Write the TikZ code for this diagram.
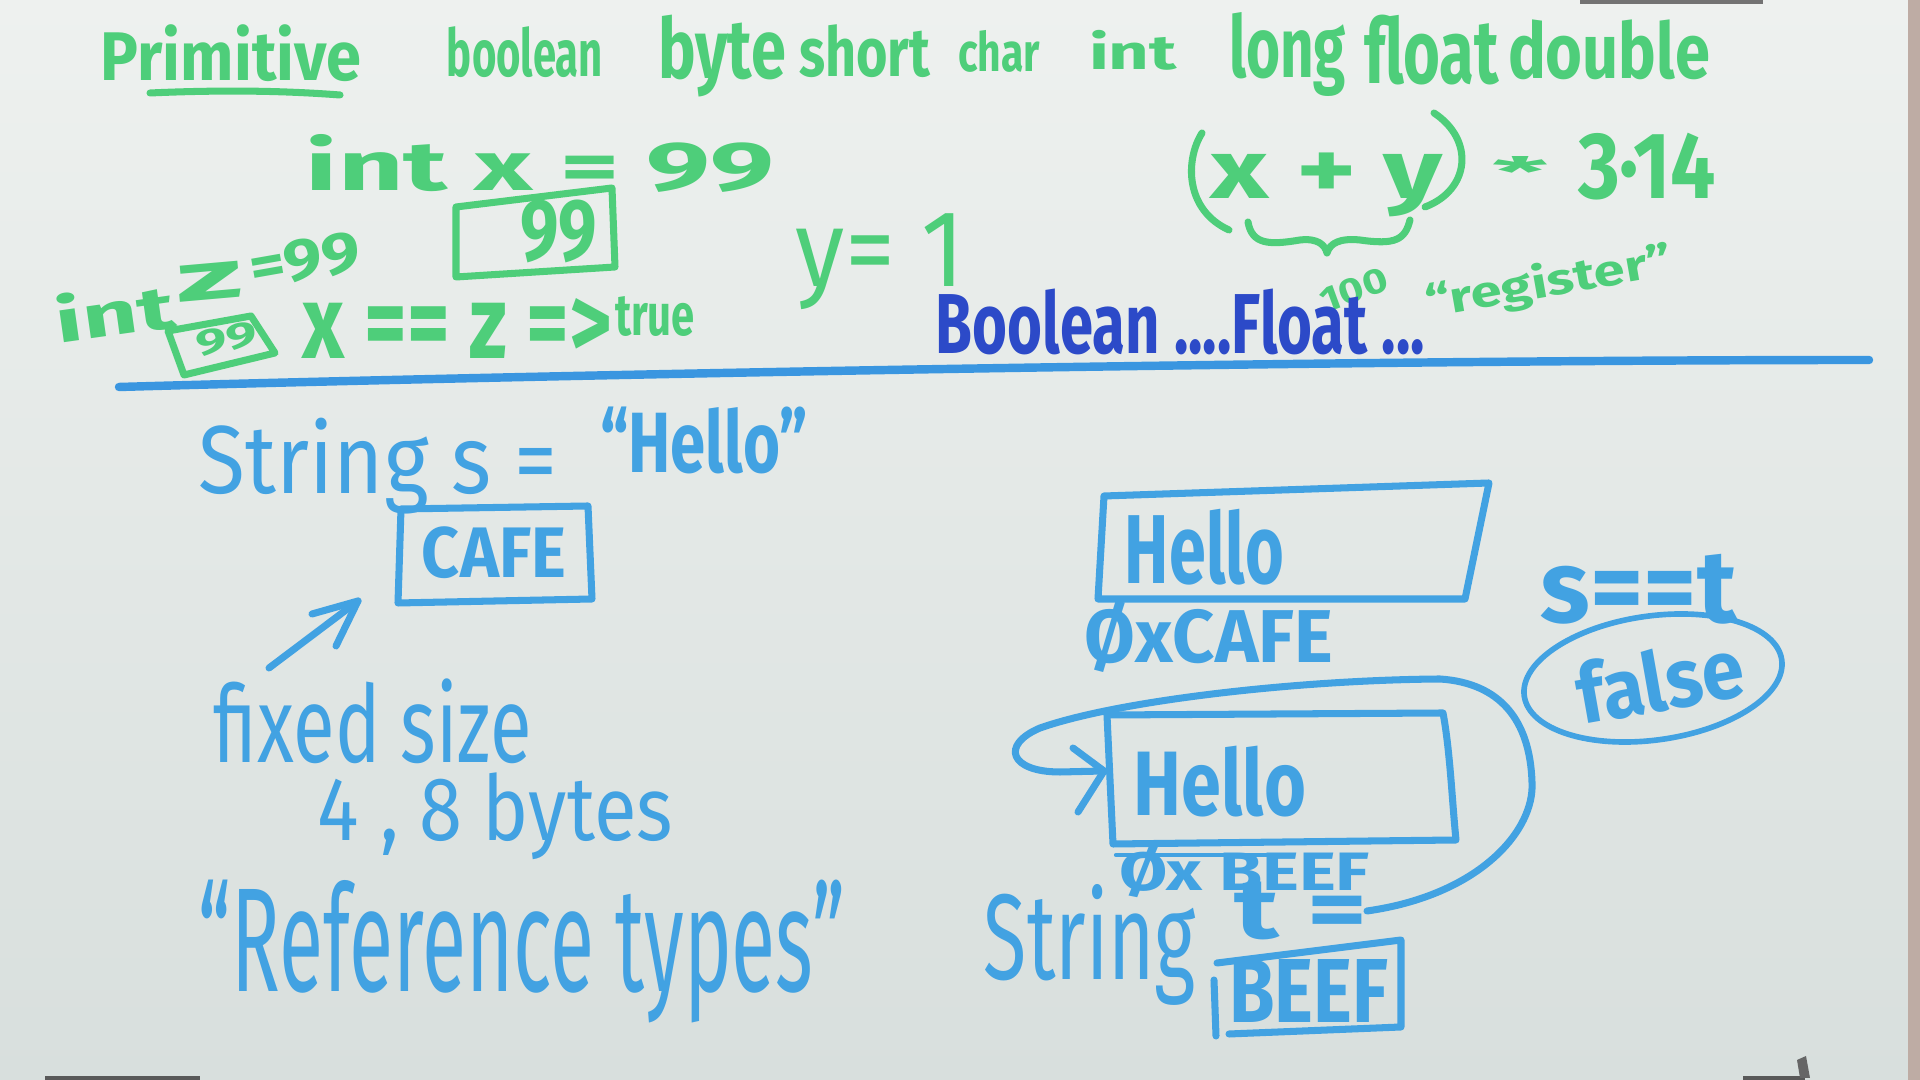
\documentclass[tikz,border=0pt]{standalone}
\usepackage{graphicx}
\usepackage{fontspec}
\setmainfont{Fira Sans}
\usetikzlibrary{arrows.meta}
% one unit of the drawing grid
\newdimen\pxu \pxu=0.01cm
% handwritten word squeezed into a given width and height (in grid units)
\newcommand\hw[3]{\resizebox*{#1\pxu}{#2\pxu}{#3}}
\definecolor{bgtop}{RGB}{238,241,239}
\definecolor{bgbot}{RGB}{216,223,221}
\definecolor{mgreen}{RGB}{78,206,122}
\definecolor{mblue}{RGB}{66,162,226}
\definecolor{mdblue}{RGB}{44,74,200}
\definecolor{lineblue}{RGB}{58,150,224}
\definecolor{edgecol}{RGB}{190,172,164}
\begin{document}
\begin{tikzpicture}[x=0.01cm,y=-0.01cm,line cap=round,line join=round,
  t/.style={inner sep=0pt,outer sep=0pt,font=\bfseries},
  big/.style={font=\mdseries},
  gt/.style={t,text=mgreen},
  bt/.style={t,text=mblue},
  dt/.style={t,text=mdblue},
  gpen/.style={draw=mgreen,line width=2pt},
  bpen/.style={draw=mblue,line width=2pt}]
% whiteboard
\shade[top color=bgtop,bottom color=bgbot] (0,0) rectangle (1920,1080);
\useasboundingbox (0,0) rectangle (1920,1080);
\fill[edgecol] (1908,0) rectangle (1920,1080);
\fill[black!55] (1580,0) rectangle (1763,4);
\fill[black!65] (45,1076) rectangle (200,1080);
\fill[black!65] (1743,1076) rectangle (1805,1080);
\fill[black!60] (1797,1060) -- (1806,1056) -- (1810,1078) -- (1800,1078) -- cycle;

% ---- primitive types (green) ----
\node[gt] (prim) at (231,53.5) {\hw{260}{57}{Primitive}};
\draw[gpen] (150,93) .. controls (240,89) and (300,92) .. (340,95);
\node[gt] (tbool) at (525,52.5) {\hw{156}{51}{boolean}};
\node[gt] (tbyte) at (722,56) {\hw{128}{82}{byte}};
\node[gt] (tshort) at (864.5,51.5) {\hw{131}{53}{short}};
\node[gt] (tchar) at (999,51) {\hw{82}{42}{char}};
\node[gt] (tint) at (1133,50) {\hw{88}{40}{int}};
\node[gt] (tlong) at (1287.5,55) {\hw{117}{84}{long}};
\node[gt] (tfloat) at (1431.5,50) {\hw{135}{70}{float}};
\node[gt] (tdouble) at (1609,50) {\hw{202}{60}{double}};

\node[gt] (intx) at (540,163) {\hw{468}{58}{int x = 99}};
\node[gt] (v99) at (558.5,231.5) {\hw{77}{63}{99}};
\draw[gpen] (456,207) -- (612,188) -- (615,267) -- (456,277) -- cycle;

\node[gt,rotate=8] (intz) at (114.5,311.5) {\hw{120}{50}{int}};
\node[gt,rotate=5] (zvar) at (210,282) {\hw{66}{36}{z}};
\node[gt,rotate=10] (z99) at (305,260) {\hw{112}{42}{=99}};
\draw[gpen] (168,331) -- (251,316) -- (275,353) -- (184,375) -- cycle;
\node[gt,rotate=10] (zval) at (226.5,339) {\hw{62}{26}{99}};
\node[gt] (xeqz) at (457.5,329) {\hw{309}{60}{x == z =>}};
\node[gt] (xtrue) at (655,317) {\hw{80}{40}{true}};

\node[gt,big] (yeq) at (880.5,262) {\hw{169}{96}{y= 1}};

\draw[gpen] (1202,133) .. controls (1185,160) and (1185,210) .. (1229,230);
\draw[gpen] (1434,113) .. controls (1475,140) and (1470,190) .. (1425,207);
\node[gt] (xy) at (1327,185) {\hw{232}{64}{x + y}};
\node[gt] (star) at (1520,172) {\hw{56}{30}{*}};
\node[gt] (pi) at (1647,166.5) {\hw{138}{67}{3·14}};
\draw[gpen] (1248,222) .. controls (1252,245) and (1270,245) .. (1300,240)
  .. controls (1318,238) and (1325,245) .. (1327,253)
  .. controls (1330,243) and (1340,238) .. (1360,240)
  .. controls (1395,245) and (1405,240) .. (1410,220);
\node[gt,rotate=20] (n100) at (1354,290) {\hw{70}{25}{100}};
\node[gt,rotate=10] (reg) at (1549,283.5) {\hw{250}{45}{“register”}};

\node[dt] (boolf) at (1180.5,322) {\hw{489}{66}{Boolean ....Float ...}};

% divider
\draw[draw=lineblue,line width=2.4pt] (119,387) .. controls (500,376) and (1300,360) .. (1869,360);

% ---- reference types (blue) ----
\node[bt,big] (strs) at (378,466) {\hw{358}{96}{String s =}};
\node[bt] (hello1q) at (704,440.5) {\hw{208}{67}{“Hello”}};
\node[bt] (cafe) at (494,553) {\hw{144}{52}{CAFE}};
\draw[bpen] (401,509) -- (588,506) -- (592,599) -- (398,603) -- cycle;
\coordinate (arrS) at (269,668);
\coordinate (arrE) at (358,601);
\draw[bpen] (arrS) -- (arrE);
\draw[bpen] (312,614) -- (arrE) -- (336,646);
\node[bt,big] (fixed) at (373,721.5) {\hw{318}{85}{fixed size}};
\node[bt,big] (bytes) at (495.5,816.5) {\hw{355}{87}{4 , 8 bytes}};
\node[bt,big] (reft) at (522,951.5) {\hw{646}{143}{“Reference types”}};

\draw[bpen] (1104,496) -- (1489,483) -- (1465,599) -- (1098,599) -- cycle;
\node[bt] (hello1) at (1204.5,547) {\hw{159}{76}{Hello}};
\node[bt] (addr1) at (1209,637) {\hw{248}{72}{ØxCAFE}};
\node[bt] (seqt) at (1639,589) {\hw{196}{70}{s==t}};
\draw[bpen,line width=1.6pt,rotate around={8:(1653,678)}] (1653,678) ellipse [x radius=130,y radius=62];
\node[bt,rotate=10] (false) at (1660,680) {\hw{168}{64}{false}};

\draw[bpen] (1107,715) -- (1443,713) .. controls (1450,750) and (1452,800) .. (1456,840) -- (1113,844) -- cycle;
\draw[bpen,line width=1.2pt] (1116,855) -- (1290,855);
\node[bt] (hello2) at (1220,781.5) {\hw{172}{71}{Hello}};
\node[bt] (addr2) at (1244.5,872) {\hw{251}{52}{Øx BEEF}};
\node[bt,big] (str2) at (1090,944.5) {\hw{212}{121}{String}};
\node[bt] (teq) at (1301,911) {\hw{132}{58}{t =}};
\draw[bpen] (1217,963) -- (1401,940) -- (1401,1027) -- (1229,1034);
\draw[bpen] (1214,980) -- (1216,1036);
\node[bt] (beef) at (1308.5,991.5) {\hw{159}{63}{BEEF}};

\coordinate (tip) at (1104,771);
\draw[bpen] (teq.east) .. controls (1480,895) and (1535,830) .. (1532,782)
  .. controls (1530,720) and (1500,683) .. (1440,679)
  .. controls (1300,680) and (1120,700) .. (1040,728)
  .. controls (1000,745) and (1010,772) .. (1060,772) -- (tip);
\draw[bpen] (1073,748) -- (tip) -- (1078,812);
\end{tikzpicture}
\end{document}
